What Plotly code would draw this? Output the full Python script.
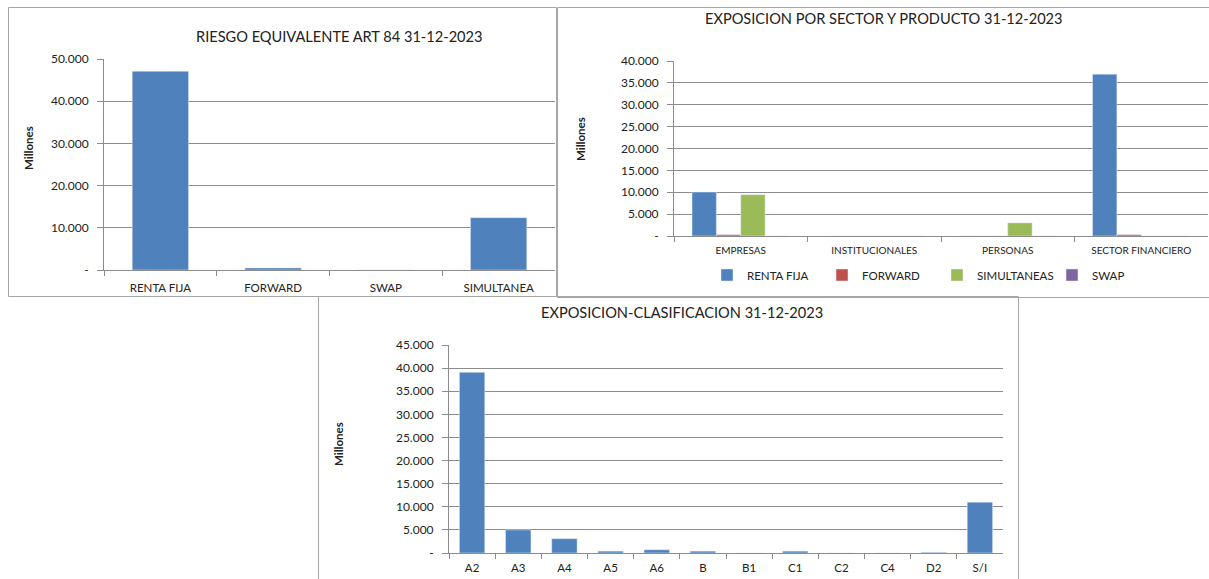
import plotly.graph_objects as go

# ---------------- data ----------------
c1_categories = ["RENTA FIJA", "FORWARD", "SWAP", "SIMULTANEA"]
c1_values = [47100, 500, 0, 12400]

c2_categories = ["EMPRESAS", "INSTITUCIONALES", "PERSONAS", "SECTOR FINANCIERO"]
c2_renta_fija = [10050, 0, 0, 37000]
c2_forward = [300, 0, 0, 300]
c2_simultaneas = [9450, 0, 3000, 0]
c2_swap = [0, 0, 0, 0]

c3_categories = ["A2", "A3", "A4", "A5", "A6", "B", "B1", "C1", "C2", "C4", "D2", "S/I"]
c3_values = [39100, 5000, 3100, 400, 700, 400, 0, 400, 0, 0, 150, 11000]

c1_tickvals = [0, 10000, 20000, 30000, 40000, 50000]
c1_ticktext = ["-", "10.000", "20.000", "30.000", "40.000", "50.000"]
c2_tickvals = [0, 5000, 10000, 15000, 20000, 25000, 30000, 35000, 40000]
c2_ticktext = ["-", "5.000", "10.000", "15.000", "20.000", "25.000", "30.000", "35.000", "40.000"]
c3_tickvals = [0, 5000, 10000, 15000, 20000, 25000, 30000, 35000, 40000, 45000]
c3_ticktext = ["-", "5.000", "10.000", "15.000", "20.000", "25.000", "30.000", "35.000", "40.000", "45.000"]

# ---------------- styling ----------------
W, H = 1209, 579
FONT = "Lato"
BLUE = "#4f81bd"
RED = "#c0504d"
GREEN = "#9bbb59"
PURPLE = "#8064a2"
GRID = "#8c8c8c"
TXT = "#222222"


def px(x):
    return x / W


def py(y):
    return 1 - y / H


fig = go.Figure()

fig.add_trace(go.Bar(x=c1_categories, y=c1_values, marker_color=BLUE, width=0.5,
                     showlegend=False, xaxis="x", yaxis="y"))

for name, vals, col in [("RENTA FIJA", c2_renta_fija, BLUE), ("FORWARD", c2_forward, RED),
                        ("SIMULTANEAS", c2_simultaneas, GREEN), ("SWAP", c2_swap, PURPLE)]:
    fig.add_trace(go.Bar(x=c2_categories, y=vals, name=name, marker_color=col,
                         xaxis="x2", yaxis="y2", showlegend=True))

fig.add_trace(go.Bar(x=c3_categories, y=c3_values, marker_color=BLUE, width=0.55,
                     showlegend=False, xaxis="x3", yaxis="y3"))

xcommon = dict(type="category", showline=True, linecolor=GRID, linewidth=1,
               ticks="outside", tickson="boundaries", ticklen=5, tickcolor=GRID,
               showgrid=False, zeroline=False, fixedrange=True, automargin=False)
ycommon = dict(showline=True, linecolor=GRID, linewidth=1, ticks="outside",
               ticklen=6, tickcolor=GRID, showgrid=True, gridcolor=GRID,
               gridwidth=1, zeroline=False, fixedrange=True, automargin=False,
               ticklabelstandoff=6, tickfont=dict(size=12))

fig.update_layout(
    width=W, height=H,
    margin=dict(l=0, r=0, t=0, b=0, autoexpand=False),
    paper_bgcolor="white", plot_bgcolor="white",
    font=dict(family=FONT, color=TXT, size=11),
    barmode="group", bargap=0.27, bargroupgap=0,
    xaxis=dict(domain=[px(104), px(555)], anchor="y", ticklabelstandoff=7,
               tickfont=dict(size=11.5), **xcommon),
    yaxis=dict(domain=[py(270), py(59)], anchor="x", range=[0, 50000],
               tickvals=c1_tickvals, ticktext=c1_ticktext, **ycommon),
    xaxis2=dict(domain=[px(674), px(1208)], anchor="y2", ticklabelstandoff=5,
                tickfont=dict(size=10), **xcommon),
    yaxis2=dict(domain=[py(236), py(61)], anchor="x2", range=[0, 40000],
                tickvals=c2_tickvals, ticktext=c2_ticktext, **ycommon),
    xaxis3=dict(domain=[px(449), px(1003)], anchor="y3", ticklabelstandoff=4,
                tickfont=dict(size=11.5), **xcommon),
    yaxis3=dict(domain=[py(553), py(345)], anchor="x3", range=[0, 45000],
                tickvals=c3_tickvals, ticktext=c3_ticktext, **ycommon),
    legend=dict(orientation="h", x=px(707), y=py(275), xanchor="left", yanchor="middle",
                font=dict(size=11.5), bgcolor="rgba(0,0,0,0)", traceorder="normal",
                entrywidth=70, entrywidthmode="pixels"),
)

# frames
frame = dict(type="rect", xref="paper", yref="paper",
             line=dict(color="#a6a6a6", width=1), fillcolor="rgba(0,0,0,0)", layer="below")
fig.add_shape(x0=px(8.5), x1=px(556.5), y0=py(296.5), y1=py(7.5), **frame)
fig.add_shape(x0=px(557.5), x1=px(1212), y0=py(297.5), y1=py(7.5), **frame)
fig.add_shape(x0=px(318.5), x1=px(1018.5), y0=py(585), y1=py(296.5), **frame)

# titles
titles = [("RIESGO EQUIVALENTE ART 84 31-12-2023", 339, 36),
          ("EXPOSICION POR SECTOR Y PRODUCTO 31-12-2023", 884, 18),
          ("EXPOSICION-CLASIFICACION 31-12-2023", 682, 312)]
for t, x, y in titles:
    fig.add_annotation(text=t, x=px(x), y=py(y), xref="paper", yref="paper",
                       showarrow=False, xanchor="center", yanchor="middle",
                       font=dict(size=14.6, color=TXT, family=FONT))

for x, y in [(28, 148), (580, 139), (339, 444)]:
    fig.add_annotation(text="<b>Millones</b>", x=px(x), y=py(y), xref="paper", yref="paper",
                       showarrow=False, textangle=-90, xanchor="center", yanchor="middle",
                       font=dict(size=11.5, color=TXT, family=FONT))

fig.write_html("out.html", config={"displayModeBar": False},
               post_script="document.body.style.margin='0';document.body.style.overflow='hidden';")
